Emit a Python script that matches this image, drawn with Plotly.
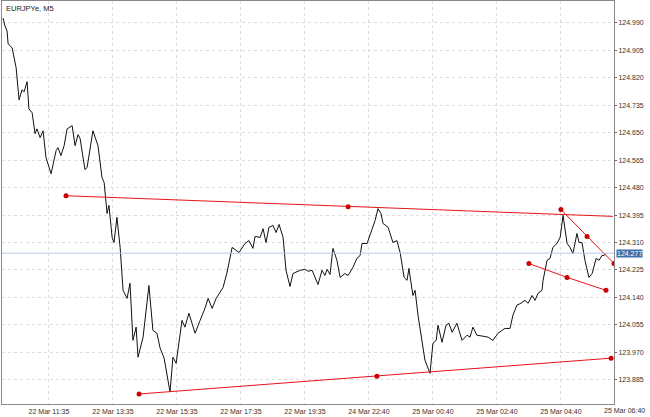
import plotly.graph_objects as go

# bar index (M5 bars from left edge) and close price
bar = [0.4, 1.1, 1.9, 2.3, 3.8, 5.3, 6.4, 7.5, 8.3, 9.4, 10.1, 11.3, 12.4, 13.1, 14.3, 15.4,
       16.5, 18.4, 20.3, 21.0, 22.1, 23.3, 24.4, 26.3, 27.4, 28.5, 29.3, 31.1, 31.9, 34.1,
       36.0, 37.5, 38.3, 39.4, 40.1, 41.3, 42.0, 43.1, 44.3, 45.4, 46.9, 48.0, 49.1, 50.3,
       51.0, 52.9, 55.1, 56.6, 58.1, 59.3, 60.8, 63.0, 64.1, 65.3, 67.5, 68.6, 70.1, 72.4,
       74.3, 76.1, 77.3, 78.8, 80.3, 82.9, 84.4, 86.3, 88.9, 91.1, 92.6, 94.1, 94.9, 96.8,
       97.9, 99.0, 100.1, 101.6, 102.8, 103.9, 105.4, 106.5, 108.0, 109.1, 111.8, 113.6,
       114.8, 116.3, 118.5, 120.0, 121.1, 121.9, 123.0, 124.1, 125.6, 126.8, 128.6, 129.8,
       131.6, 133.1, 134.3, 135.0, 136.9, 139.9, 141.0, 142.1, 142.9, 144.8, 146.6, 148.1,
       149.3, 150.8, 151.9, 152.6, 154.1, 154.9, 156.0, 157.5, 158.6, 160.5, 161.6, 162.8,
       163.5, 165.0, 166.5, 167.6, 168.8, 170.6, 172.5, 174.4, 175.5, 176.6, 178.1, 180.4,
       182.3, 184.1, 186.0, 187.5, 188.6, 190.5, 191.6, 193.1, 194.6, 196.1, 197.3, 198.8,
       199.9, 201.0, 202.5, 202.9, 204.4, 205.5, 206.6, 208.1, 209.3, 210.4, 211.9, 213.0,
       214.1, 215.6, 216.4, 217.5, 218.6, 220.1, 221.3, 222.8, 223.9, 225.0, 225.8, 226.5]
price = [125.005, 124.981, 124.965, 124.925, 124.913, 124.851, 124.752, 124.783, 124.777,
         124.808, 124.724, 124.712, 124.647, 124.662, 124.635, 124.656, 124.573, 124.523,
         124.595, 124.604, 124.579, 124.610, 124.662, 124.672, 124.610, 124.644, 124.632,
         124.536, 124.542, 124.656, 124.610, 124.511, 124.496, 124.400, 124.425, 124.326,
         124.310, 124.388, 124.295, 124.162, 124.137, 124.184, 124.007, 124.048, 123.955,
         124.017, 124.177, 124.038, 124.029, 123.983, 123.952, 123.847, 123.955, 123.936,
         124.069, 124.048, 124.091, 124.029, 124.069, 124.106, 124.137, 124.106, 124.137,
         124.171, 124.218, 124.295, 124.279, 124.307, 124.316, 124.292, 124.329, 124.326,
         124.353, 124.310, 124.357, 124.363, 124.341, 124.366, 124.326, 124.224, 124.174,
         124.214, 124.224, 124.227, 124.221, 124.224, 124.180, 124.224, 124.208, 124.227,
         124.211, 124.292, 124.255, 124.202, 124.214, 124.208, 124.233, 124.261, 124.270,
         124.307, 124.307, 124.378, 124.415, 124.400, 124.369, 124.357, 124.310, 124.316,
         124.279, 124.202, 124.193, 124.230, 124.146, 124.162, 124.085, 123.998, 123.946,
         123.905, 123.998, 124.007, 124.054, 124.001, 124.054, 124.060, 124.032, 124.060,
         124.007, 124.023, 124.017, 124.048, 124.023, 124.020, 124.017, 124.007, 124.029,
         124.038, 124.044, 124.044, 124.085, 124.116, 124.122, 124.131, 124.122, 124.146,
         124.131, 124.153, 124.162, 124.193, 124.255, 124.261, 124.295, 124.307, 124.326,
         124.394, 124.307, 124.295, 124.276, 124.338, 124.310, 124.310, 124.255, 124.202,
         124.214, 124.261, 124.255, 124.270, 124.270, 124.277]

# trend lines
upper_x = [24.0, 129.8, 229.1]
upper_y = [124.455, 124.421, 124.391]
desc_x = [209.6, 219.4, 229.5]
desc_y = [124.412, 124.329, 124.245]
low_short_x = [197.6, 211.9, 226.5]
low_short_y = [124.245, 124.202, 124.162]
bottom_x = [51.4, 140.6, 228.4]
bottom_y = [123.841, 123.896, 123.952]

last_price = 124.277
tick_bars = [17.6, 41.6, 65.6, 89.6, 113.6, 137.6, 161.6, 185.6, 209.6]
tick_text = ["22 Mar 11:35", "22 Mar 13:35", "22 Mar 15:35", "22 Mar 17:35", "22 Mar 19:35",
             "24 Mar 22:40", "25 Mar 00:40", "25 Mar 02:40", "25 Mar 04:40"]
last_tick_text = "25 Mar 06:40"
y_ticks = [123.885, 123.970, 124.055, 124.140, 124.225, 124.310, 124.395, 124.480,
           124.565, 124.650, 124.735, 124.820, 124.905, 124.990]

RED = "#e8141b"
TICKFONT = dict(size=7, color="#333333", family="Liberation Sans")
fig = go.Figure()
fig.add_hline(y=last_price, line=dict(color="#b8c8e6", width=1))
fig.add_trace(go.Scatter(x=bar, y=price, mode="lines", line=dict(color="#111111", width=1)))
fig.add_trace(go.Scatter(x=upper_x, y=upper_y, mode="lines", line=dict(color=RED, width=1)))
fig.add_trace(go.Scatter(x=upper_x[:2], y=upper_y[:2], mode="markers",
                         marker=dict(color="#cc0000", size=5)))
for xs, ys in [(desc_x, desc_y), (low_short_x, low_short_y), (bottom_x, bottom_y)]:
    fig.add_trace(go.Scatter(x=xs, y=ys, mode="lines+markers", line=dict(color=RED, width=1),
                             marker=dict(color="#cc0000", size=5)))

fig.add_annotation(x=0.003, y=0.998, xref="paper", yref="paper", text="EURJPYe, M5",
                   showarrow=False, xanchor="left", yanchor="top",
                   font=dict(size=7.5, color="#222222"))
fig.add_annotation(x=1.0, y=last_price, xref="paper", yref="y", text=f"{last_price:.3f}",
                   showarrow=False, xanchor="left", xshift=2, bgcolor="#3f6fa8",
                   font=dict(size=7, color="white"), borderpad=0)
fig.add_annotation(x=1.0, y=0, xref="paper", yref="paper", text=last_tick_text,
                   showarrow=False, xanchor="center", yanchor="top", xshift=10, yshift=-1,
                   font=TICKFONT)

grid = dict(showgrid=True, gridcolor="#dcdcdc", griddash="dot", gridwidth=1)
fig.update_xaxes(range=[0, 229.5], tickvals=tick_bars, ticktext=tick_text, ticks="",
                 ticklabelstandoff=1, tickfont=TICKFONT, automargin=False,
                 showline=True, linecolor="#888888", mirror=True, zeroline=False, **grid)
fig.update_yaxes(range=[123.810, 125.058], tickvals=y_ticks, tickformat=".3f", side="right",
                 ticks="outside", ticklen=2, tickcolor="#666", ticklabelstandoff=0,
                 tickfont=TICKFONT, automargin=False,
                 showline=True, linecolor="#888888", mirror=True, zeroline=False, **grid)
fig.update_layout(width=650, height=417, showlegend=False, plot_bgcolor="white",
                  paper_bgcolor="white", margin=dict(l=2, r=36, t=1, b=13),
                  font=dict(family="Liberation Sans"))
fig.write_html("out.html", config={"displayModeBar": False},
               post_script="document.body.style.margin='0';")
